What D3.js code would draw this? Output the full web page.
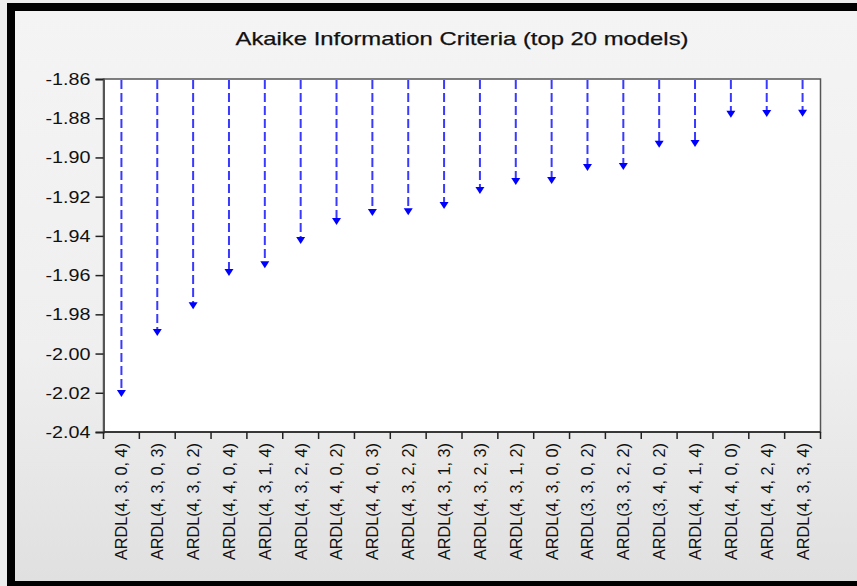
<!DOCTYPE html>
<html><head><meta charset="utf-8">
<script src="https://cdn.jsdelivr.net/npm/d3@7"></script>
<style>html,body{margin:0;padding:0;background:#fff}svg{display:block}</style>
</head><body>
<script>
const categories = ["ARDL(4, 3, 0, 4)", "ARDL(4, 3, 0, 3)", "ARDL(4, 3, 0, 2)", "ARDL(4, 4, 0, 4)", "ARDL(4, 3, 1, 4)", "ARDL(4, 3, 2, 4)", "ARDL(4, 4, 0, 2)", "ARDL(4, 4, 0, 3)", "ARDL(4, 3, 2, 2)", "ARDL(4, 3, 1, 3)", "ARDL(4, 3, 2, 3)", "ARDL(4, 3, 1, 2)", "ARDL(4, 3, 0, 0)", "ARDL(3, 3, 0, 2)", "ARDL(3, 3, 2, 2)", "ARDL(3, 4, 0, 2)", "ARDL(4, 4, 1, 4)", "ARDL(4, 4, 0, 0)", "ARDL(4, 4, 2, 4)", "ARDL(4, 3, 3, 4)"];
const aicValues = [-2.0216, -1.9905, -1.9769, -1.9599, -1.9560, -1.9436, -1.9339, -1.9294, -1.9290, -1.9258, -1.9181, -1.9135, -1.9130, -1.9064, -1.9059, -1.8945, -1.8942, -1.8792, -1.8789, -1.8787];
const yTicks = [-1.86, -1.88, -1.90, -1.92, -1.94, -1.96, -1.98, -2.00, -2.02, -2.04];
const yDomain = [-2.04, -1.86];
const title = "Akaike Information Criteria (top 20 models)";

const W = 857, H = 586;
const m = {left: 103.5, right: 820.5, top: 79, bottom: 432};
const svg = d3.select("body").append("svg").attr("width", W).attr("height", H);
const defs = svg.append("defs");
const g = defs.append("linearGradient").attr("id","bg").attr("x1",0).attr("y1",0).attr("x2",0).attr("y2",1);
g.append("stop").attr("offset","0").attr("stop-color","#f4f4f4");
g.append("stop").attr("offset","0.6").attr("stop-color","#efefef");
g.append("stop").attr("offset","1").attr("stop-color","#e0e0e0");

// outer frame
svg.append("rect").attr("x",0).attr("y",0).attr("width",W).attr("height",H).attr("fill","#ececec");
svg.append("rect").attr("x",7).attr("y",3).attr("width",W-7).attr("height",H-3).attr("fill","#000");
svg.append("rect").attr("x",15).attr("y",11).attr("width",W-15).attr("height",570).attr("fill","url(#bg)");

const x = d3.scaleBand().domain(categories).range([m.left, m.right]);
const y = d3.scaleLinear().domain(yDomain).range([m.bottom, m.top]);

// plot area
svg.append("rect").attr("x",m.left).attr("y",m.top).attr("width",m.right-m.left).attr("height",m.bottom-m.top)
  .attr("fill","#fff").attr("stroke","#555").attr("stroke-width",1.5);

// title
svg.append("text").attr("x",(m.left+m.right)/2).attr("y",45).attr("text-anchor","middle")
  .attr("font-family","Liberation Sans, Arial, sans-serif").attr("font-size",19).attr("fill","#111")
  .attr("stroke","#111").attr("stroke-width",0.25)
  .attr("textLength",453).attr("lengthAdjust","spacingAndGlyphs").text(title);

// y axis
const yAxis = svg.append("g").attr("transform",`translate(${m.left},0)`)
  .call(d3.axisLeft(y).tickValues(yTicks).tickFormat(d => d.toFixed(2)).tickSize(8).tickPadding(5));
yAxis.select(".domain").attr("stroke","#555").attr("stroke-width",2);
yAxis.selectAll(".tick line").attr("stroke","#222").attr("stroke-width",1.5);
yAxis.selectAll(".tick text").attr("font-family","Liberation Sans, Arial, sans-serif").attr("font-size",17)
  .attr("fill","#111").attr("textLength",45).attr("lengthAdjust","spacingAndGlyphs");

// x axis: ticks at band edges
const edges = categories.map(c => x(c)).concat([m.right]);
const xAxisG = svg.append("g");
xAxisG.append("line").attr("x1",m.left).attr("x2",m.right).attr("y1",m.bottom).attr("y2",m.bottom)
  .attr("stroke","#222").attr("stroke-width",1.5);
xAxisG.selectAll("line.t").data(edges).join("line").attr("class","t")
  .attr("x1",d=>d).attr("x2",d=>d).attr("y1",m.bottom).attr("y2",m.bottom+7)
  .attr("stroke","#222").attr("stroke-width",1.5);
xAxisG.selectAll("text").data(categories).join("text")
  .attr("transform",d=>`translate(${x(d)+x.bandwidth()/2},443) rotate(-90)`)
  .attr("text-anchor","end").attr("dy","0.35em")
  .attr("font-family","Liberation Sans, Arial, sans-serif").attr("font-size",17).attr("fill","#111")
  .attr("textLength",117).attr("lengthAdjust","spacingAndGlyphs")
  .text(d=>d);

// stems
const cx = (d,i) => x(categories[i]) + x.bandwidth()/2;
svg.append("g").selectAll("line").data(aicValues).join("line")
  .attr("x1",cx).attr("x2",cx).attr("y1",m.top+1).attr("y2",d=>y(d)-4)
  .attr("stroke","#3a3aff").attr("stroke-width",2).attr("stroke-dasharray","9,4");
// arrow heads
svg.append("g").selectAll("path").data(aicValues).join("path")
  .attr("d",(d,i)=>{const px=cx(d,i), py=y(d); return `M${px-4.5},${py-6}L${px+4.5},${py-6}L${px},${py+1}Z`;})
  .attr("fill","#0000ff");
</script>
</body></html>
